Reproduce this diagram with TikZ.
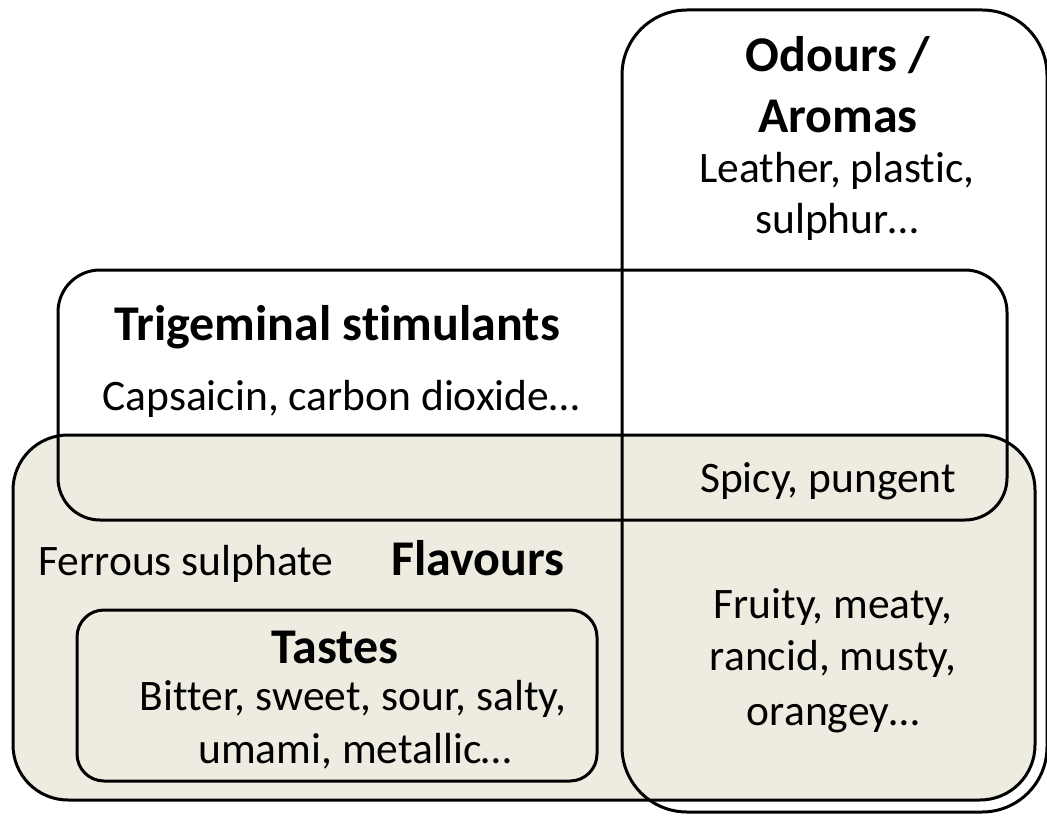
\documentclass[tikz,border=0pt]{standalone}
\usepackage{fontspec}
\setmainfont{Carlito}[Ligatures=NoCommon]
\definecolor{flavourfill}{RGB}{238,235,224}
\begin{document}
\begin{tikzpicture}[x=1pt,y=-1pt,
  region/.style={rectangle,draw,line width=3pt,rounded corners=#1,inner sep=0pt,outer sep=0pt},
  head/.style={anchor=base,inner sep=0pt,font=\fontsize{50}{60}\selectfont\bfseries},
  txt/.style={anchor=base,inner sep=0pt,font=\fontsize{43.5}{53}\selectfont}]
\useasboundingbox (0,0) rectangle (1047,816);
\node[region=55pt,fill=flavourfill,minimum width=1022pt,minimum height=365pt] (flavours) at (524,617.5) {};
\node[region=27pt,fill=flavourfill,minimum width=520pt,minimum height=171pt] (tastes) at (337,695.5) {};
\node[region=42pt,minimum width=949pt,minimum height=250pt] (trigeminal) at (532.5,395) {};
\node[region=65pt,minimum width=425pt,minimum height=802pt] (odours) at (834.5,411) {};
\node[head] (odourhead) at (838,72) {Odours /};
\node[head] (aromahead) at (838,132) {Aromas};
\node[txt] (odourtxta) at (837,182) {Leather, plastic,};
\node[txt] (odourtxtb) at (837,233) {sulphur…};
\node[head] (trighead) at (337,340) {Trigeminal stimulants};
\node[txt] (trigtxt) at (341,410) {Capsaicin, carbon dioxide…};
\node[txt] (spicytxt) at (828,492) {Spicy, pungent};
\node[txt] (ferroustxt) at (186,575) {Ferrous sulphate};
\node[head] (flavhead) at (478,575) {Flavours};
\node[head] (tastehead) at (335,663) {Tastes};
\node[txt] (tastetxta) at (353,710) {Bitter, sweet, sour, salty,};
\node[txt] (tastetxtb) at (355,763) {umami, metallic…};
\node[txt] (aromatxta) at (833,618) {Fruity, meaty,};
\node[txt] (aromatxtb) at (833,670) {rancid, musty,};
\node[txt] (aromatxtc) at (833,725) {orangey…};
\end{tikzpicture}
\end{document}
